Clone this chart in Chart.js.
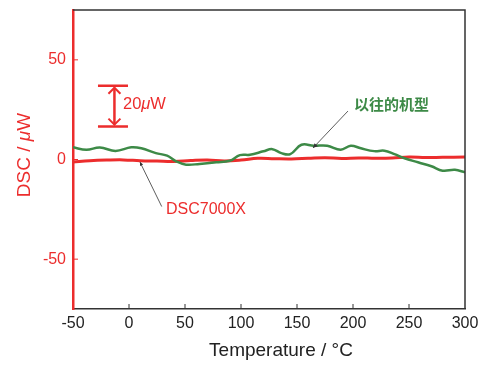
<!DOCTYPE html>
<html>
<head>
<meta charset="utf-8">
<script src="https://cdn.jsdelivr.net/npm/chart.js@4"></script>
<style>
  body { margin: 0; background: #fff; }
  canvas { display: block; }
</style>
</head>
<body>
<canvas id="chart" width="488" height="365"></canvas>
<script>
// dados
const redTemp = [-50, -35, -20, -5, 10, 25, 40, 55, 70, 85, 100, 115, 130, 145, 160, 175, 190, 205, 220, 235, 250, 265, 280, 300];
const redDsc = [-1.2, -0.6, -0.3, -0.2, -0.6, -0.8, -1.0, -0.5, -0.2, -0.7, -0.3, 0.6, 0.4, 0.3, 0.6, 0.9, 0.5, 0.8, 0.6, 0.7, 1.2, 1.0, 1.1, 1.2];

const greenTemp = [-50, -38, -26, -12, 2, 11, 24, 34, 42, 51, 63, 78, 90, 99, 108, 120, 128, 136, 144, 154, 165, 177, 189, 198, 207, 219, 228, 237, 246, 258, 270, 280, 291, 300];
const greenDsc = [6.1, 4.9, 6.0, 4.3, 6.1, 5.6, 3.2, 1.9, -0.9, -2.6, -2.2, -1.4, -0.6, 2.2, 2.4, 4.1, 5.2, 3.2, 2.7, 7.4, 6.9, 6.9, 4.9, 6.9, 5.6, 4.2, 4.4, 2.7, 0.6, -1.4, -3.4, -5.6, -5.2, -6.4];

const xTicks = [-50, 0, 50, 100, 150, 200, 250, 300];
const yTicks = [-50, 0, 50];

const RED = '#ec2d2d';
const GREEN = '#3d8a47';
const FONT = "'Liberation Sans', Arial, sans-serif";

const toPoints = (xs, ys) => xs.map((x, i) => ({ x: x, y: ys[i] }));

function arrowHead(ctx, x1, y1, x2, y2, size) {
  const a = Math.atan2(y2 - y1, x2 - x1);
  ctx.beginPath();
  ctx.moveTo(x2, y2);
  ctx.lineTo(x2 - size * Math.cos(a - 0.45), y2 - size * Math.sin(a - 0.45));
  ctx.lineTo(x2 - size * Math.cos(a + 0.45), y2 - size * Math.sin(a + 0.45));
  ctx.closePath();
  ctx.fill();
}

// texto com o "μ" em itálico
function mixedText(ctx, parts, x, y, size) {
  let w = 0;
  parts.forEach(p => {
    ctx.font = (p.italic ? 'italic ' : '') + size + 'px ' + FONT;
    w += ctx.measureText(p.t).width;
  });
  return {
    width: w,
    draw(startX) {
      let tx = startX;
      parts.forEach(p => {
        ctx.font = (p.italic ? 'italic ' : '') + size + 'px ' + FONT;
        ctx.fillText(p.t, tx, y);
        tx += ctx.measureText(p.t).width;
      });
    }
  };
}

// anotações, moldura, títulos e marcas de escala
const extras = {
  id: 'extras',
  afterDraw(chart) {
    const { ctx, chartArea: a, scales: { x, y } } = chart;
    const px = v => x.getPixelForValue(v);
    const py = v => y.getPixelForValue(v);
    ctx.save();

    // moldura superior e direita
    ctx.strokeStyle = '#333';
    ctx.lineWidth = 1.5;
    ctx.beginPath();
    ctx.moveTo(a.left, a.top);
    ctx.lineTo(a.right, a.top);
    ctx.lineTo(a.right, a.bottom);
    ctx.stroke();

    // marcas para dentro
    ctx.lineWidth = 1;
    ctx.strokeStyle = '#333';
    xTicks.forEach(t => {
      if (t === -50 || t === 300) return;
      ctx.beginPath();
      ctx.moveTo(px(t), a.bottom);
      ctx.lineTo(px(t), a.bottom - 5);
      ctx.stroke();
    });
    ctx.strokeStyle = RED;
    yTicks.forEach(t => {
      ctx.beginPath();
      ctx.moveTo(a.left, py(t));
      ctx.lineTo(a.left + 5, py(t));
      ctx.stroke();
    });

    // títulos dos eixos
    ctx.textBaseline = 'middle';
    ctx.textAlign = 'left';
    ctx.fillStyle = '#222';
    ctx.font = '19px ' + FONT;
    const xt = 'Temperature / °C';
    ctx.fillText(xt, 281 - ctx.measureText(xt).width / 2, 351);

    ctx.save();
    ctx.translate(24.5, 155);
    ctx.rotate(-Math.PI / 2);
    ctx.fillStyle = RED;
    const yt = mixedText(ctx, [{ t: 'DSC / ' }, { t: 'μ', italic: true }, { t: 'W' }], 0, 0, 19);
    yt.draw(-yt.width / 2);
    ctx.restore();

    // barra de escala 20 µW
    const bx = px(-13), bTop = py(37), bBot = py(16.5);
    ctx.strokeStyle = RED;
    ctx.fillStyle = RED;
    ctx.lineWidth = 2.5;
    ctx.beginPath();
    ctx.moveTo(px(-27.7), bTop); ctx.lineTo(px(-0.9), bTop);
    ctx.moveTo(px(-27.7), bBot); ctx.lineTo(px(-0.9), bBot);
    ctx.moveTo(bx, bTop + 2); ctx.lineTo(bx, bBot - 2);
    ctx.stroke();
    ctx.lineWidth = 2;
    ctx.beginPath();
    ctx.moveTo(bx - 6, bTop + 8); ctx.lineTo(bx, bTop + 2); ctx.lineTo(bx + 6, bTop + 8);
    ctx.moveTo(bx - 6, bBot - 8); ctx.lineTo(bx, bBot - 2); ctx.lineTo(bx + 6, bBot - 8);
    ctx.stroke();

    const sb = mixedText(ctx, [{ t: '20' }, { t: 'μ', italic: true }, { t: 'W' }], 0, py(27.8), 16.5);
    sb.draw(px(-5.4));

    // rótulos das curvas
    ctx.fillStyle = GREEN;
    ctx.font = "bold 15px 'Noto Sans CJK SC', sans-serif";
    ctx.fillText('以往的机型', px(200.9), py(27.8));
    ctx.fillStyle = RED;
    ctx.font = '16px ' + FONT;
    ctx.fillText('DSC7000X', px(33), py(-25.3));

    // linhas de chamada
    ctx.strokeStyle = '#333';
    ctx.fillStyle = '#333';
    ctx.lineWidth = 0.8;
    ctx.beginPath();
    ctx.moveTo(px(195.5), py(24.3));
    ctx.lineTo(px(164.3), py(5.8));
    ctx.stroke();
    arrowHead(ctx, px(195.5), py(24.3), px(164.3), py(5.8), 5);
    ctx.beginPath();
    ctx.moveTo(px(29.2), py(-23.6));
    ctx.lineTo(px(9.8), py(-1.3));
    ctx.stroke();
    arrowHead(ctx, px(29.2), py(-23.6), px(9.8), py(-1.3), 4);

    ctx.restore();
  }
};

const myChart = new Chart(document.getElementById('chart'), {
  type: 'line',
  data: {
    datasets: [
      {
        label: '以往的机型',
        data: toPoints(greenTemp, greenDsc),
        borderColor: GREEN,
        borderWidth: 2.5,
        pointRadius: 0,
        tension: 0.4
      },
      {
        label: 'DSC7000X',
        data: toPoints(redTemp, redDsc),
        borderColor: RED,
        borderWidth: 3,
        pointRadius: 0,
        tension: 0.4
      }
    ]
  },
  options: {
    responsive: false,
    animation: false,
    layout: { padding: { left: 0, right: 23, top: 10, bottom: 0 } },
    plugins: { legend: { display: false }, tooltip: { enabled: false } },
    scales: {
      x: {
        type: 'linear',
        min: -50,
        max: 300,
        afterFit: s => { s.height = 56; s.paddingLeft = 0; s.paddingRight = 0; },
        afterBuildTicks: s => { s.ticks = xTicks.map(v => ({ value: v })); },
        grid: { display: false, drawTicks: false },
        border: { color: '#333', width: 1.5 },
        ticks: { color: '#222', font: { family: FONT, size: 16 }, padding: 5, maxRotation: 0 }
      },
      y: {
        min: -75,
        max: 75,
        afterFit: s => { s.width = 73; s.paddingTop = 0; s.paddingBottom = 0; },
        afterBuildTicks: s => { s.ticks = yTicks.map(v => ({ value: v })); },
        grid: { display: false, drawTicks: false },
        border: { color: RED, width: 2.5 },
        ticks: { color: RED, font: { family: FONT, size: 16 }, padding: 7 }
      }
    }
  },
  plugins: [extras]
});
</script>
</body>
</html>
